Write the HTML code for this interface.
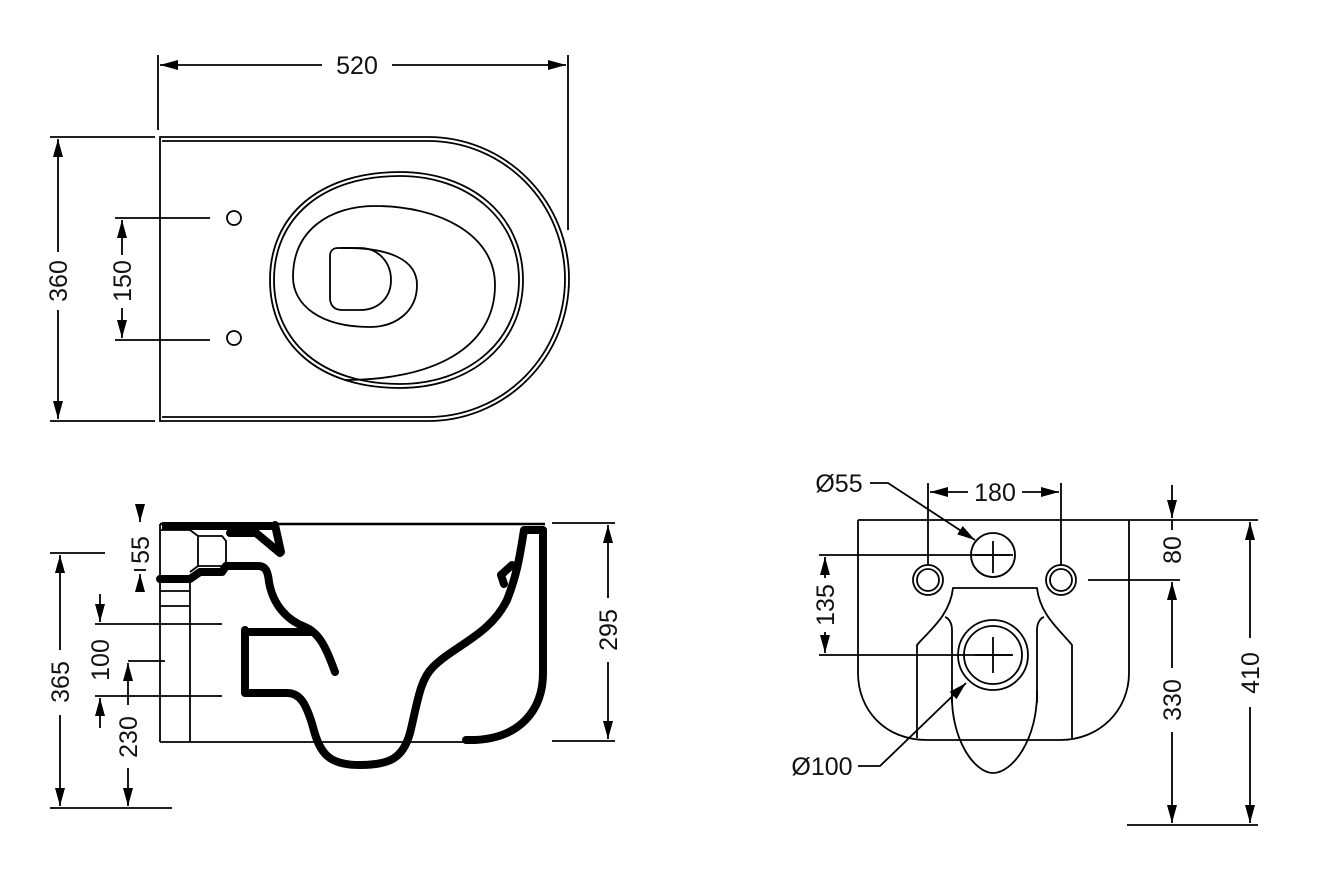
<!DOCTYPE html>
<html><head><meta charset="utf-8"><style>
html,body{margin:0;padding:0;background:#fff;width:1318px;height:876px;overflow:hidden}
svg text{font-family:"Liberation Sans",Arial,sans-serif;font-size:25px;fill:#111}
</style></head><body>
<svg width="1318" height="876" viewBox="0 0 1318 876" xmlns="http://www.w3.org/2000/svg">
<defs>
<marker id="a" markerUnits="userSpaceOnUse" markerWidth="20" markerHeight="12" refX="18" refY="6" orient="auto-start-reverse"><path d="M0,1 L18,6 L0,11 Z" fill="#000"/></marker>
</defs>
<g fill="none" stroke="#000" stroke-width="1.8">
<!-- TOP VIEW -->
<line x1="158" y1="55" x2="158" y2="130"/>
<line x1="568" y1="55" x2="568" y2="230"/>
<line x1="160" y1="65" x2="322" y2="65" marker-start="url(#a)"/>
<line x1="392" y1="65" x2="566" y2="65" marker-end="url(#a)"/>
<line x1="50" y1="137" x2="155" y2="137"/>
<line x1="50" y1="421" x2="155" y2="421"/>
<line x1="58" y1="139" x2="58" y2="252" marker-start="url(#a)"/>
<line x1="58" y1="310" x2="58" y2="419" marker-end="url(#a)"/>
<line x1="115" y1="218" x2="210" y2="218"/>
<line x1="115" y1="340" x2="210" y2="340"/>
<line x1="122" y1="220" x2="122" y2="255" marker-start="url(#a)"/>
<line x1="122" y1="308" x2="122" y2="338" marker-end="url(#a)"/>
<circle cx="234" cy="218" r="7"/>
<circle cx="234" cy="338" r="7"/>
<path d="M160,421 V137 H428 A141,142 0 0 1 428,421 Z"/>
<path d="M162,141 H428 A137,138 0 0 1 428,417 H162"/>
<path d="M400,172 C470,172 523,215 523,280 C523,345 470,388 400,388 C320,388 270,345 270,280 C270,215 320,172 400,172 Z"/>
<path d="M400,176 C467,176 519,218 519,280 C519,342 467,384 400,384 C322,384 274,342 274,280 C274,218 322,176 400,176 Z"/>
<path d="M370,327 C320,327 293,305 293,277 C293,230 330,206 375,206 C440,206 495,235 495,285 C495,350 430,380 345,380"/>
<path d="M340,248 C390,247 417,260 417,285 C417,312 395,327 370,327"/>
<path d="M338,248 H360 C378,248 391,262 391,280 C391,298 378,310 360,310 H342 C334,310 330,305 330,298 V256 C330,251 333,248 338,248 Z"/>
<!-- SIDE VIEW -->
<line x1="160" y1="524" x2="545" y2="524" stroke-width="2.5"/>
<line x1="160" y1="524" x2="160" y2="742"/>
<line x1="160" y1="742" x2="470" y2="742"/>
<line x1="190" y1="583" x2="190" y2="742"/>
<line x1="160" y1="591" x2="190" y2="591"/>
<line x1="160" y1="606" x2="190" y2="606"/>
<path d="M160,530 H190 L198,536 V566 L190,572 M198,536 H222 L226,541 V562 L222,566 H198"/>
<line x1="95" y1="624" x2="222" y2="624"/>
<line x1="95" y1="696" x2="222" y2="696"/>
<line x1="128" y1="661" x2="165" y2="661"/>
<line x1="100" y1="594" x2="100" y2="622" marker-end="url(#a)"/>
<line x1="100" y1="728" x2="100" y2="698" marker-end="url(#a)"/>
<line x1="50" y1="553" x2="105" y2="553"/>
<line x1="50" y1="808" x2="172" y2="808"/>
<line x1="60" y1="555" x2="60" y2="650" marker-start="url(#a)"/>
<line x1="60" y1="715" x2="60" y2="806" marker-end="url(#a)"/>
<line x1="128" y1="663" x2="128" y2="705" marker-start="url(#a)"/>
<line x1="128" y1="768" x2="128" y2="806" marker-end="url(#a)"/>
<line x1="140" y1="508" x2="140" y2="522" marker-end="url(#a)"/>
<line x1="140" y1="592" x2="140" y2="574" marker-end="url(#a)"/>
<line x1="134" y1="570" x2="146" y2="570"/>
<line x1="552" y1="523" x2="615" y2="523"/>
<line x1="552" y1="741" x2="615" y2="741"/>
<line x1="608" y1="525" x2="608" y2="598" marker-start="url(#a)"/>
<line x1="608" y1="662" x2="608" y2="739" marker-end="url(#a)"/>
<g stroke-width="8" stroke-linejoin="round" stroke-linecap="round">
<path d="M162,526 H275" stroke-linecap="butt"/>
<path d="M230,533 H256 L280,553"/>
<path d="M275,525 L281,552"/>
<path d="M160,579 H190 L200,572 H222 L226,566 H258 C266,566 268,572 269,582 C273,605 287,620 305,627 C320,633 327,650 335,672"/>
<path d="M245,632 H313" stroke-linecap="butt"/>
<path d="M245,630 V693 H287 C300,693 306,703 313,727 C320,755 330,765 360,765 C390,765 403,758 410,733 C418,700 420,680 433,667 C455,645 490,635 507,600 C517,575 520,555 524,530 H543 V673 C543,710 520,738 475,740 H466"/>
<path d="M512,565 L501,575 L504,584"/>
</g>
<!-- REAR VIEW -->
<path d="M858,520 V673 C858,710 885,740 927,740 H1060 C1100,740 1129,710 1129,673 V520"/>
<line x1="858" y1="520" x2="1258" y2="520"/>
<circle cx="993" cy="555" r="22"/>
<path d="M993,541 V573 M975,555 H1010"/>
<circle cx="928" cy="580" r="15"/><circle cx="928" cy="580" r="11"/>
<circle cx="1061" cy="580" r="15"/><circle cx="1061" cy="580" r="11"/>
<circle cx="993" cy="655" r="35"/><circle cx="993" cy="655" r="29"/>
<path d="M993,637 V673 M975,655 H1012"/>
<path d="M917,738 V645 C930,630 950,615 953,588 H1037 C1040,615 1060,630 1072,645 V738"/>
<path d="M952,703 V630 C952,622 948,618 945,617 M1037,703 V630 C1037,622 1041,618 1044,617"/>
<path d="M952,690 C950,740 975,773 993,773 C1012,773 1038,740 1037,690"/>
<line x1="928" y1="483" x2="928" y2="565"/>
<line x1="1061" y1="483" x2="1061" y2="565"/>
<line x1="930" y1="492" x2="968" y2="492" marker-start="url(#a)"/>
<line x1="1022" y1="492" x2="1059" y2="492" marker-end="url(#a)"/>
<path d="M870,483 H888 L975,540" marker-end="url(#a)"/>
<path d="M858,766 H880 L966,683" marker-end="url(#a)"/>
<line x1="819" y1="555" x2="1013" y2="555"/>
<line x1="819" y1="655" x2="1013" y2="655"/>
<line x1="825" y1="557" x2="825" y2="578" marker-start="url(#a)"/>
<line x1="825" y1="632" x2="825" y2="653" marker-end="url(#a)"/>
<line x1="1088" y1="580" x2="1180" y2="580"/>
<line x1="1172" y1="485" x2="1172" y2="518" marker-end="url(#a)"/>
<line x1="1172" y1="520" x2="1172" y2="530"/>
<line x1="1172" y1="582" x2="1172" y2="668" marker-start="url(#a)"/>
<line x1="1172" y1="732" x2="1172" y2="823" marker-end="url(#a)"/>
<line x1="1127" y1="825" x2="1258" y2="825"/>
<line x1="1250" y1="522" x2="1250" y2="638" marker-start="url(#a)"/>
<line x1="1250" y1="707" x2="1250" y2="823" marker-end="url(#a)"/>
</g>
<g>
<text x="357" y="74" text-anchor="middle">520</text>
<text transform="translate(67,281) rotate(-90)" text-anchor="middle">360</text>
<text transform="translate(131,281) rotate(-90)" text-anchor="middle">150</text>
<text transform="translate(149,550) rotate(-90)" text-anchor="middle">55</text>
<text transform="translate(109,660) rotate(-90)" text-anchor="middle">100</text>
<text transform="translate(69,682) rotate(-90)" text-anchor="middle">365</text>
<text transform="translate(137,737) rotate(-90)" text-anchor="middle">230</text>
<text transform="translate(617,630) rotate(-90)" text-anchor="middle">295</text>
<text x="839" y="492" text-anchor="middle">Ø55</text>
<text x="995" y="501" text-anchor="middle">180</text>
<text x="822" y="775" text-anchor="middle">Ø100</text>
<text transform="translate(834,605) rotate(-90)" text-anchor="middle">135</text>
<text transform="translate(1181,550) rotate(-90)" text-anchor="middle">80</text>
<text transform="translate(1181,700) rotate(-90)" text-anchor="middle">330</text>
<text transform="translate(1259,673) rotate(-90)" text-anchor="middle">410</text>
</g>
</svg>
</body></html>
